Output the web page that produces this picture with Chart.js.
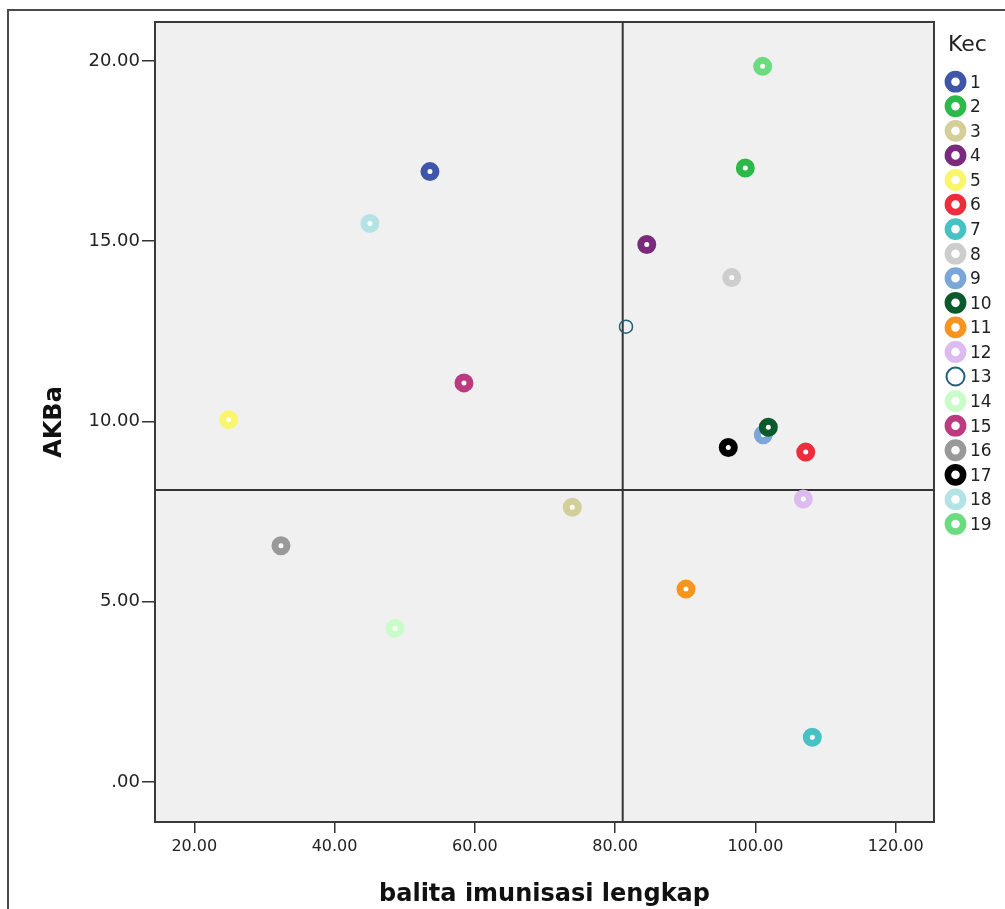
<!DOCTYPE html>
<html>
<head>
<meta charset="utf-8">
<script src="https://cdn.jsdelivr.net/npm/chart.js@4/dist/chart.umd.min.js"></script>
<style>
  html, body { margin: 0; padding: 0; background: #ffffff; }
  #wrap { width: 1005px; height: 909px; }
</style>
</head>
<body>
<div id="wrap"><canvas id="c" width="1005" height="909"></canvas></div>
<script>
// ---- data ----
const kecLabels = ['1','2','3','4','5','6','7','8','9','10','11','12','13','14','15','16','17','18','19'];
const balitaImunisasi = [53.60, 98.56, 73.89, 84.51, 24.90, 107.17, 108.11, 96.62, 101.12, 101.84, 90.10, 106.83, 81.55, 48.61, 58.45, 32.36, 96.13, 45.04, 101.03];
const akba = [16.93, 17.03, 7.62, 14.91, 10.05, 9.15, 1.24, 13.99, 9.63, 9.84, 5.35, 7.85, 12.63, 4.26, 11.07, 6.55, 9.28, 15.49, 19.85];
const meanBalita = 81.08;
const meanAkba = 8.10;
const xTickValues = [20, 40, 60, 80, 100, 120];
const yTickValues = [0, 5, 10, 15, 20];
const xRange = [14.40, 125.46];
const yRange = [-1.11, 21.08];

// ---- styles ----
const kecColors = ['#3F56A8','#2DB84A','#D4CE99','#7A2A7C','#FAF66C','#EE2D3C','#47C1C3','#CDCDCD','#7AA6D8','#0B5A2C','#F7941E','#DDBBF0','#1C6079','#C8FCC8','#BC3A80','#999999','#000000','#B3E3E5','#6BDB80'];
const hollowKec = '13';

const datasets = kecLabels.map((k, i) => {
  const hollow = k === hollowKec;
  return {
    type: 'scatter',
    label: k,
    data: [{ x: balitaImunisasi[i], y: akba[i] }],
    borderColor: kecColors[i],
    backgroundColor: hollow ? 'rgba(0,0,0,0)' : '#ffffff',
    pointRadius: hollow ? 6.5 : 6,
    pointBorderWidth: hollow ? 1.5 : 7,
    pointHoverRadius: 6,
    order: -i
  };
});

datasets.push({
  type: 'line', label: '_meanX',
  data: [{ x: meanBalita, y: yRange[0] }, { x: meanBalita, y: yRange[1] }],
  borderColor: '#333333', borderWidth: 2, pointRadius: 0, order: 100, clip: false
});
datasets.push({
  type: 'line', label: '_meanY',
  data: [{ x: xRange[0], y: meanAkba }, { x: xRange[1], y: meanAkba }],
  borderColor: '#333333', borderWidth: 2, pointRadius: 0, order: 101, clip: false
});

const bgPlugin = {
  id: 'bgPlugin',
  beforeDraw(chart) {
    const { ctx, chartArea: a } = chart;
    ctx.save();
    ctx.fillStyle = '#ffffff';
    ctx.fillRect(0, 0, chart.width, chart.height);
    // outer frame (left and top edges)
    ctx.strokeStyle = '#4a4a4a';
    ctx.lineWidth = 2;
    ctx.beginPath();
    ctx.moveTo(8, chart.height + 2);
    ctx.lineTo(8, 10);
    ctx.lineTo(chart.width + 2, 10);
    ctx.stroke();
    ctx.fillStyle = '#F0F0F0';
    ctx.fillRect(a.left, a.top, a.right - a.left, a.bottom - a.top);
    ctx.restore();
  },
  afterDatasetsDraw(chart) {
    const { ctx, chartArea: a } = chart;
    ctx.save();
    ctx.strokeStyle = '#3a3a3a';
    ctx.lineWidth = 2;
    ctx.strokeRect(a.left, a.top, a.right - a.left, a.bottom - a.top);
    ctx.restore();
  },
  afterDraw(chart) {
    const { ctx } = chart;
    ctx.save();
    ctx.fillStyle = '#222222';
    ctx.textBaseline = 'middle';
    ctx.textAlign = 'left';
    ctx.font = '22px "DejaVu Sans"';
    ctx.fillText('Kec', 948, 45);
    const startY = 81.7, step = 24.57, cx = 955.5;
    let row = 0;
    chart.data.datasets.forEach((ds) => {
      if (ds.label.startsWith('_')) return;
      const y = startY + row * step;
      const hollow = ds.label === hollowKec;
      ctx.beginPath();
      ctx.arc(cx, y, hollow ? 9 : 7.6, 0, Math.PI * 2);
      ctx.fillStyle = hollow ? 'rgba(0,0,0,0)' : '#ffffff';
      ctx.fill();
      ctx.strokeStyle = ds.borderColor;
      ctx.lineWidth = hollow ? 2 : 6.6;
      ctx.stroke();
      ctx.fillStyle = '#222222';
      ctx.font = '17px "DejaVu Sans"';
      ctx.fillText(ds.label, 970, y + 1.5);
      row++;
    });
    ctx.restore();
  }
};

const fmt = (v) => {
  const s = Number(v).toFixed(2);
  return s.startsWith('0.') ? s.slice(1) : s;
};

new Chart(document.getElementById('c'), {
  type: 'scatter',
  data: { datasets },
  plugins: [bgPlugin],
  options: {
    responsive: false,
    animation: false,
    events: [],
    layout: { padding: { left: 0, top: 22, right: 71, bottom: 0 } },
    plugins: {
      legend: { display: false },
      tooltip: { enabled: false }
    },
    scales: {
      x: {
        type: 'linear',
        min: xRange[0], max: xRange[1],
        afterFit(scale) { scale.height = 87; },
        afterBuildTicks(scale) { scale.ticks = xTickValues.map(v => ({ value: v })); },
        border: { display: false },
        grid: { drawOnChartArea: false, drawTicks: true, tickLength: 11, color: '#333333', lineWidth: 1.5 },
        ticks: {
          callback: (v) => fmt(v),
          color: '#222222',
          font: { family: 'DejaVu Sans', size: 16 },
          padding: 4,
          maxRotation: 0
        },
        title: {
          display: true,
          text: 'balita imunisasi lengkap',
          color: '#111111',
          font: { family: 'DejaVu Sans', size: 24, weight: 'bold' },
          padding: { top: 5, bottom: 0 }
        }
      },
      y: {
        type: 'linear',
        min: yRange[0], max: yRange[1],
        afterFit(scale) { scale.width = 155; },
        afterBuildTicks(scale) { scale.ticks = yTickValues.map(v => ({ value: v })); },
        border: { display: false },
        grid: { drawOnChartArea: false, drawTicks: true, tickLength: 13, color: '#333333', lineWidth: 1.5 },
        ticks: {
          callback: (v) => fmt(v),
          color: '#222222',
          font: { family: 'DejaVu Sans', size: 18 },
          padding: 2
        },
        title: {
          display: true,
          text: 'AKBa',
          color: '#111111',
          font: { family: 'DejaVu Sans', size: 24, weight: 'bold' },
          padding: { top: 40, bottom: 0 }
        }
      }
    }
  }
});
</script>
</body>
</html>
